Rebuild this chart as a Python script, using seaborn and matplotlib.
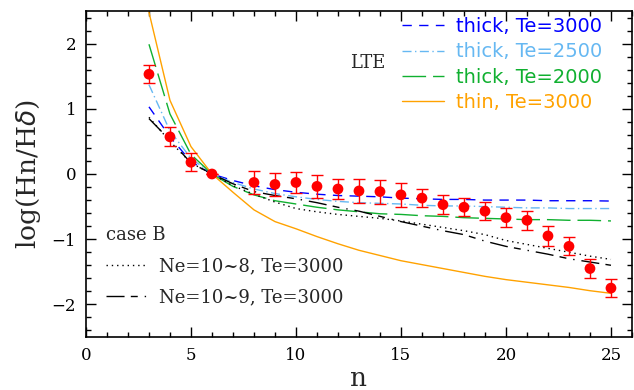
import matplotlib
matplotlib.use("Agg")
import matplotlib.pyplot as plt
from matplotlib.lines import Line2D
from matplotlib.ticker import MultipleLocator
import numpy as np
import pandas as pd
import seaborn as sns

# ---------------- data ----------------
n_model = list(range(3, 26))
thick_3000 = [1.03, 0.57, 0.19, 0.0, -0.10, -0.18, -0.24, -0.28, -0.31, -0.33, -0.34, -0.35,
              -0.37, -0.38, -0.39, -0.39, -0.40, -0.40, -0.40, -0.41, -0.41, -0.41, -0.415]
thick_2500 = [1.37, 0.66, 0.24, 0.0, -0.13, -0.23, -0.30, -0.35, -0.39, -0.42, -0.44, -0.45,
              -0.46, -0.48, -0.49, -0.49, -0.50, -0.51, -0.52, -0.52, -0.53, -0.53, -0.53]
thick_2000 = [1.99, 0.92, 0.30, 0.0, -0.19, -0.32, -0.41, -0.46, -0.51, -0.55, -0.58, -0.61,
              -0.62, -0.64, -0.65, -0.67, -0.68, -0.69, -0.70, -0.70, -0.71, -0.71, -0.72]
thin_3000 = [2.48, 1.13, 0.42, 0.0, -0.28, -0.55, -0.73, -0.84, -0.96, -1.07, -1.17, -1.25,
             -1.33, -1.39, -1.45, -1.51, -1.57, -1.62, -1.66, -1.70, -1.74, -1.79, -1.83]
caseb_ne8 = [0.87, 0.50, 0.17, 0.0, -0.18, -0.31, -0.43, -0.53, -0.58, -0.62, -0.65, -0.68,
             -0.72, -0.77, -0.82, -0.87, -0.93, -1.02, -1.08, -1.14, -1.20, -1.26, -1.31]
caseb_ne9 = [0.85, 0.52, 0.17, 0.0, -0.15, -0.27, -0.33, -0.38, -0.44, -0.51, -0.57, -0.65,
             -0.73, -0.80, -0.87, -0.93, -1.03, -1.11, -1.17, -1.23, -1.30, -1.35, -1.40]

n_obs = [3, 4, 5, 6, 8, 9, 10, 11, 12, 13, 14, 15, 16, 17, 18, 19, 20, 21, 22, 23, 24, 25]
obs = [1.53, 0.57, 0.18, 0.0, -0.13, -0.16, -0.13, -0.19, -0.23, -0.26, -0.27, -0.32,
       -0.37, -0.47, -0.51, -0.57, -0.67, -0.71, -0.95, -1.11, -1.45, -1.75]
obs_err = [0.14, 0.145, 0.14, 0.0, 0.17, 0.17, 0.16, 0.18, 0.155, 0.18, 0.185, 0.18,
           0.14, 0.15, 0.14, 0.14, 0.15, 0.15, 0.15, 0.14, 0.15, 0.14]

lte_labels = ["thick, Te=3000", "thick, Te=2500", "thick, Te=2000", "thin, Te=3000"]
caseb_labels = ["Ne=10~8, Te=3000", "Ne=10~9, Te=3000"]

# ---------------- style ----------------
sns.set_theme(style="ticks")
plt.rcParams["font.family"] = ["DejaVu Serif"]
plt.rcParams["axes.linewidth"] = 1.2

fig = plt.figure(figsize=(6.34, 3.9), dpi=100)
ax = fig.add_axes([0.1356, 0.1359, 0.8612, 0.8359])

c_blue, c_lblue, c_green, c_orange = "#0000ff", "#66b8f2", "#10b030", "#ffa200"

models = [
    (thick_3000, c_blue, (0, (6.7, 5.3))),
    (thick_2500, c_lblue, (0, (6.5, 2.5, 1, 2.5))),
    (thick_2000, c_green, (0, (17, 5))),
    (thin_3000, c_orange, "-"),
    (caseb_ne8, "black", (0, (1, 2.8))),
    (caseb_ne9, "black", (0, (13, 4.5, 5, 5, 1, 5))),
]
for vals, col, ls in models:
    df = pd.DataFrame({"n": n_model, "v": vals})
    sns.lineplot(data=df, x="n", y="v", ax=ax, color=col, linewidth=1.0,
                 linestyle=ls, sort=False, legend=False)

ax.errorbar(n_obs, obs, yerr=obs_err, fmt="none", ecolor="red", elinewidth=1.0,
            capsize=4, capthick=1.0, zorder=4)
sns.scatterplot(x=n_obs, y=obs, ax=ax, color="red", s=60, edgecolor="none",
                zorder=5, legend=False)

ax.set_xlim(0, 26)
ax.set_ylim(-2.5, 2.5)
ax.xaxis.set_major_locator(MultipleLocator(5))
ax.xaxis.set_minor_locator(MultipleLocator(1))
ax.yaxis.set_major_locator(MultipleLocator(1))
ax.yaxis.set_minor_locator(MultipleLocator(0.2))
ax.tick_params(which="both", direction="in", top=True, right=True, colors="black",
               width=1.0, labelsize=12)
ax.tick_params(which="major", length=7.5, pad=7)
ax.tick_params(which="minor", length=3.6)
for sp in ax.spines.values():
    sp.set_color("black")

ax.set_xlabel("n", fontsize=19, labelpad=2)
ax.set_ylabel("log(Hn/H$\\delta$)", fontsize=19, labelpad=6)

# LTE legend
lte_handles = [Line2D([], [], color=m[1], linestyle=m[2], linewidth=1.0) for m in models[:4]]
leg1 = ax.legend(lte_handles, lte_labels, loc="upper left",
                 bbox_to_anchor=(0.578, 0.981), frameon=False, borderpad=0,
                 borderaxespad=0, handlelength=2.2, handletextpad=0.6,
                 labelspacing=0.32, labelcolor=[m[1] for m in models[:4]],
                 prop={"family": "DejaVu Sans", "size": 14})
ax.add_artist(leg1)

ax.text(0.4835, 0.840, "LTE", transform=ax.transAxes, fontsize=13,
        ha="left", va="center")

# case B legend
cb_handles = [Line2D([], [], color="black", linestyle=m[2], linewidth=1.0) for m in models[4:]]
leg2 = ax.legend(cb_handles, caseb_labels, loc="upper left",
                 bbox_to_anchor=(0.036, 0.340), frameon=False, borderpad=0,
                 borderaxespad=0, handlelength=2.3, handletextpad=0.65,
                 labelspacing=0.72, title="case B", alignment="left",
                 prop={"size": 13}, title_fontproperties={"size": 13})

fig.savefig("out.png", dpi=100)
